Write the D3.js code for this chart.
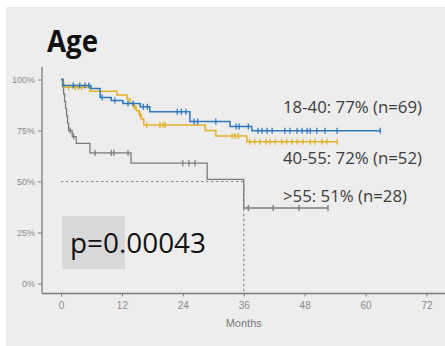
<!DOCTYPE html>
<html>
<head>
<meta charset="utf-8">
<script src="https://cdn.jsdelivr.net/npm/d3@7/dist/d3.min.js"></script>
<style>
  html, body { margin: 0; padding: 0; background: #ffffff; }
  svg { display: block; }
</style>
</head>
<body>
<svg id="chart" width="445" height="346"></svg>
<script>
// Kaplan-Meier overall survival by age group
const title = "Age";
const xTicks = [0, 12, 24, 36, 48, 60, 72];
const yTicks = [0, 25, 50, 75, 100];
const yTickLabels = ["0%", "25%", "50%", "75%", "100%"];
const xLabel = "Months";
const pValue = "p=0.00043";

// 18-40
const blueTimes = [0, 0.4, 5.9, 7.7, 9.9, 12.2, 15.6, 17.5, 25.4, 33.3, 37.6, 62.9];
const blueSurv  = [100, 97.1, 95.6, 91.2, 89.7, 88.2, 86.6, 84.2, 79.4, 77.0, 74.9, 74.9];
const blueCensor = [2.4, 3.7, 4.7, 5.5, 8.1, 10.6, 13.2, 14.2, 16.2, 17.0, 22.9, 23.7, 24.6, 26.2, 26.9, 30.5,
  34.5, 35.1, 36.9, 38.8, 39.6, 40.6, 41.6, 44.1, 45.1, 46.5, 47.5, 48.5, 49.1, 50.4, 52.0, 54.4, 62.9];

// 40-55
const yellowTimes = [0, 0.3, 0.6, 5.7, 11.0, 13.0, 13.6, 14.2, 14.8, 15.4, 15.8, 16.3, 28.4, 30.5, 36.6, 54.4];
const yellowSurv  = [100, 98.1, 96.2, 94.3, 92.4, 90.5, 88.5, 86.6, 84.7, 82.7, 80.6, 77.7, 75.0, 72.3, 69.5, 69.5];
const yellowCensor = [1.5, 2.8, 3.4, 4.1, 14.5, 15.6, 16.9, 19.5, 20.1, 20.5, 33.7, 34.3, 34.9, 37.2, 38.2, 39.2,
  40.4, 41.2, 42.2, 43.5, 44.5, 45.5, 46.5, 47.7, 49.1, 50.0, 51.4, 52.4, 54.4];

// >55
const grayTimes = [0, 0.3, 0.5, 0.7, 0.9, 1.1, 1.3, 1.5, 2.2, 3.0, 5.7, 13.8, 28.8, 36.0, 52.6];
const graySurv  = [100, 96.4, 92.9, 89.3, 85.7, 82.1, 78.6, 75.0, 72.0, 68.7, 64.0, 59.0, 51.0, 37.0, 37.0];
const grayCensor = [1.8, 2.5, 6.7, 9.9, 10.4, 13.2, 24.0, 25.2, 26.4, 36.9, 41.8, 46.9, 52.6];

const groupLabels = ["18-40: 77% (n=69)", "40-55: 72% (n=52)", ">55: 51% (n=28)"];
const medianTime = 36;
const medianLevel = 50;

const svg = d3.select("#chart");

// panel background
svg.append("rect").attr("x", 6).attr("y", 7).attr("width", 439).attr("height", 339).attr("fill", "#ededed");

const x = d3.scaleLinear().domain([0, 72]).range([61, 426.5]);
const y = d3.scaleLinear().domain([0, 100]).range([283.5, 79.5]);

// title
svg.append("text").attr("x", 47).attr("y", 52)
  .attr("font-family", "Open Sans, sans-serif").attr("font-weight", 700).attr("font-size", 31)
  .attr("textLength", 51).attr("lengthAdjust", "spacingAndGlyphs")
  .attr("fill", "#111").text(title);

// axes
const axisColor = "#7d7d7d";
svg.append("line").attr("x1", 42).attr("x2", 42).attr("y1", 67).attr("y2", 293.5)
  .attr("stroke", axisColor).attr("stroke-width", 1.3);
svg.append("line").attr("x1", 42).attr("x2", 445).attr("y1", 293.5).attr("y2", 293.5)
  .attr("stroke", axisColor).attr("stroke-width", 1.3);

const yAxis = svg.append("g").attr("transform", "translate(42,0)")
  .call(d3.axisLeft(y).tickValues(yTicks).tickSize(4).tickPadding(3)
    .tickFormat((d, i) => yTickLabels[i]));
yAxis.select(".domain").remove();
yAxis.selectAll("line").attr("stroke", axisColor);
yAxis.selectAll("text").attr("fill", "#8a8a8a").attr("font-size", 9)
  .attr("font-family", "Liberation Sans, Arial, sans-serif");

const xAxis = svg.append("g").attr("transform", "translate(0,293.5)")
  .call(d3.axisBottom(x).tickValues(xTicks).tickSize(3).tickPadding(5));
xAxis.select(".domain").remove();
xAxis.selectAll("line").attr("stroke", axisColor);
xAxis.selectAll("text").attr("fill", "#8a8a8a").attr("font-size", 10)
  .attr("font-family", "Liberation Sans, Arial, sans-serif");

svg.append("text").attr("x", x(medianTime)).attr("y", 327).attr("text-anchor", "middle")
  .attr("font-family", "Liberation Sans, Arial, sans-serif").attr("font-size", 11)
  .attr("fill", "#7a7a7a").text(xLabel);

// median reference lines
svg.append("path")
  .attr("d", `M${x(0)},${y(medianLevel)}H${x(medianTime)}V${y(0) + 10}`)
  .attr("fill", "none").attr("stroke", "#8c8c8c").attr("stroke-width", 1.2)
  .attr("stroke-dasharray", "2.5,2.5");

// survival curves
const stepLine = d3.line().x(d => x(d[0])).y(d => y(d[1])).curve(d3.curveStepAfter);
function survAt(times, surv, t) {
  const i = d3.bisectRight(times, t) - 1;
  return surv[Math.max(0, i)];
}
function drawCurve(times, surv, censor, color, width) {
  const pts = times.map((t, i) => [t, surv[i]]);
  svg.append("path").datum(pts).attr("d", stepLine)
    .attr("fill", "none").attr("stroke", color).attr("stroke-width", width);
  svg.append("g").selectAll("line").data(censor).join("line")
    .attr("x1", d => x(d)).attr("x2", d => x(d))
    .attr("y1", d => y(survAt(times, surv, d)) - 3).attr("y2", d => y(survAt(times, surv, d)) + 3)
    .attr("stroke", color).attr("stroke-width", 1.3);
}
drawCurve(grayTimes, graySurv, grayCensor, "#7b7b7b", 1.3);
drawCurve(yellowTimes, yellowSurv, yellowCensor, "#e3b22a", 1.5);
drawCurve(blueTimes, blueSurv, blueCensor, "#2f78c0", 1.5);

// group annotations
const labelY = [113, 164, 202];
const labelW = [139, 139, 124];
svg.append("g").selectAll("text").data(groupLabels).join("text")
  .attr("x", 283).attr("y", (d, i) => labelY[i])
  .attr("font-family", "Open Sans, sans-serif").attr("font-size", 16.5)
  .attr("textLength", (d, i) => labelW[i]).attr("lengthAdjust", "spacingAndGlyphs")
  .attr("fill", "#3c3c3c").text(d => d);

// p-value box
svg.append("rect").attr("x", 62).attr("y", 216).attr("width", 63).attr("height", 53).attr("fill", "#d8d8d8");
svg.append("text").attr("x", 70).attr("y", 253)
  .attr("font-family", "Open Sans, sans-serif").attr("font-size", 28)
  .attr("textLength", 136).attr("lengthAdjust", "spacingAndGlyphs")
  .attr("fill", "#111").text(pValue);
</script>
</body>
</html>
